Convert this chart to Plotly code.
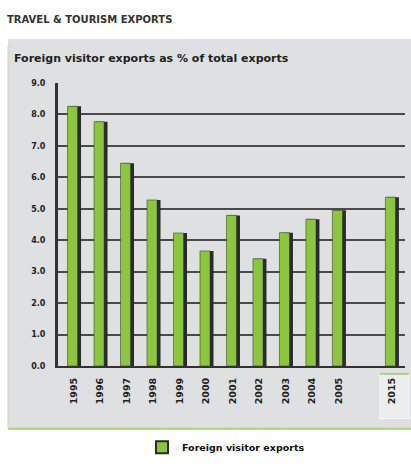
import plotly.graph_objects as go

years = ["1995", "1996", "1997", "1998", "1999", "2000", "2001", "2002", "2003", "2004", "2005", "2015"]
positions = [0, 1, 2, 3, 4, 5, 6, 7, 8, 9, 10, 12]
share = [8.26, 7.77, 6.45, 5.28, 4.23, 3.66, 4.79, 3.41, 4.24, 4.67, 4.95, 5.37]
y_ticks = [0, 1, 2, 3, 4, 5, 6, 7, 8, 9]
y_labels = ["0.0", "1.0", "2.0", "3.0", "4.0", "5.0", "6.0", "7.0", "8.0", "9.0"]

L, R, T, B = 58, 6, 83, 96
W, H = 411, 468
pw, ph = W - L - R, H - T - B

def px(x):
    return (x - L) / pw

def py(y):
    return (H - B - y) / ph

fig = go.Figure()
# shadow (3D side)
fig.add_trace(go.Bar(x=positions, y=share, width=0.46, offset=-0.19,
                     marker=dict(color="#2b2b2b", line=dict(width=0)),
                     showlegend=False, hoverinfo="skip"))
fig.add_trace(go.Bar(x=positions, y=share, width=0.38, offset=-0.24,
                     name="<b>Foreign visitor exports</b>",
                     marker=dict(color="#8cc63f", line=dict(color="#2b2b2b", width=0.5))))

shapes = [
    dict(type="rect", xref="paper", yref="paper", x0=px(8), x1=px(411), y0=py(436), y1=py(38),
         fillcolor="#dfe0e2", line=dict(width=0), layer="below"),
    dict(type="line", xref="paper", yref="paper", x0=px(8), x1=px(411), y0=py(436), y1=py(436),
         line=dict(color="#a9d27a", width=2)),
    dict(type="line", xref="paper", yref="paper", x0=px(8), x1=px(8), y0=py(436), y1=py(45),
         line=dict(color="#c8d8b8", width=1)),
    dict(type="rect", xref="paper", yref="paper", x0=px(380), x1=px(409), y0=py(426), y1=py(380),
         fillcolor="#eceded", line=dict(color="#f5f5f5", width=1), layer="below"),
    dict(type="line", xref="paper", yref="paper", x0=px(380), x1=px(409), y0=py(380), y1=py(380),
         line=dict(color="#a9d27a", width=2)),
]

FONT = "DejaVu Sans, Verdana, sans-serif"
fig.update_layout(
    width=W, height=H,
    margin=dict(l=L, r=R, t=T, b=B),
    paper_bgcolor="white", plot_bgcolor="#dfe0e2",
    barmode="overlay",
    font=dict(family=FONT, size=8, color="#222"),
    shapes=shapes,
    showlegend=True,
    legend=dict(orientation="h", x=px(226), xanchor="center", y=py(455), yanchor="middle",
                font=dict(size=9.5, color="#111"), itemsizing="constant"),
    annotations=[
        dict(text="<b>TRAVEL & TOURISM EXPORTS</b>", xref="paper", yref="paper",
             x=px(5), y=py(18), xanchor="left", yanchor="middle", showarrow=False,
             font=dict(size=10, color="#333")),
        dict(text="<b>Foreign visitor exports as % of total exports</b>", xref="paper", yref="paper",
             x=px(12), y=py(58), xanchor="left", yanchor="middle", showarrow=False,
             font=dict(size=11, color="#222")),
    ],
)
fig.update_xaxes(range=[-0.6, 12.5], tickvals=positions, ticktext=["<b>%s</b>" % y for y in years],
                 tickangle=-90, showgrid=False, zeroline=False,
                 showline=True, linecolor="#333", linewidth=2, ticks="", ticklabelstandoff=6,
                 tickfont=dict(size=9.5, color="#222"))
fig.update_yaxes(range=[0, 9], tickvals=y_ticks, ticktext=["<b>%s</b>" % t for t in y_labels],
                 showgrid=True, gridcolor="#4a4a4a", gridwidth=2, zeroline=False,
                 showline=True, linecolor="#333", linewidth=3, ticks="", ticklabelstandoff=8,
                 tickfont=dict(size=8, color="#222"))

fig.write_html("out.html", config={"displayModeBar": False},
               post_script="document.body.style.margin='0';document.body.style.overflow='hidden';")
